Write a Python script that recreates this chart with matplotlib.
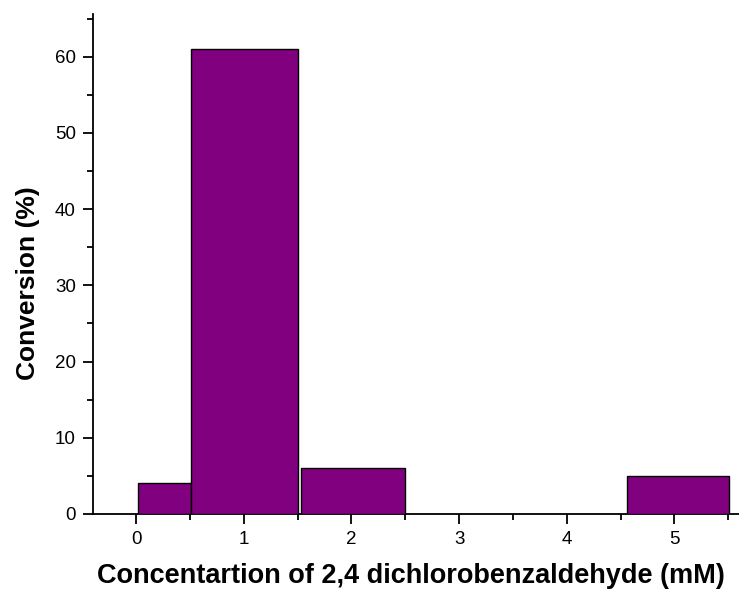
import matplotlib

matplotlib.use("Agg")
import matplotlib.pyplot as plt
from matplotlib.ticker import MultipleLocator

# bars: left edge, width, height
lefts = [0.02, 0.51, 1.53, 4.56]
widths = [0.49, 0.99, 0.97, 0.95]
conversion = [4, 61, 6, 5]
xticks = [0, 1, 2, 3, 4, 5]

plt.rcParams["font.family"] = ["Liberation Sans", "DejaVu Sans"]

fig = plt.figure(figsize=(7.39, 5.9), dpi=100)
ax = fig.add_axes([0.126, 0.129, 0.874, 0.847])

ax.bar(lefts, conversion, width=widths, align="edge",
       color="#800080", edgecolor="black", linewidth=1.0, zorder=3)

ax.set_xlim(-0.4, 5.6)
ax.set_ylim(0, 65.6)
ax.set_xticks(xticks)
ax.xaxis.set_minor_locator(MultipleLocator(0.5))
ax.yaxis.set_major_locator(MultipleLocator(10))
ax.yaxis.set_minor_locator(MultipleLocator(5))

for side in ("top", "right"):
    ax.spines[side].set_visible(False)
for side in ("left", "bottom"):
    ax.spines[side].set_linewidth(1.3)

ax.tick_params(which="major", direction="out", length=7.5, width=1.3, labelsize=13.5, pad=5)
ax.tick_params(which="minor", direction="out", length=4, width=1.3)

ax.set_xlabel("Concentartion of 2,4 dichlorobenzaldehyde (mM)", fontsize=19.5,
              fontweight="bold")
ax.xaxis.set_label_coords(0.492, -0.099)
ax.set_ylabel("Conversion (%)", fontsize=19, fontweight="bold")
ax.yaxis.set_label_coords(-0.082, 0.462)

fig.savefig("out.png", dpi=100)
plt.close(fig)
